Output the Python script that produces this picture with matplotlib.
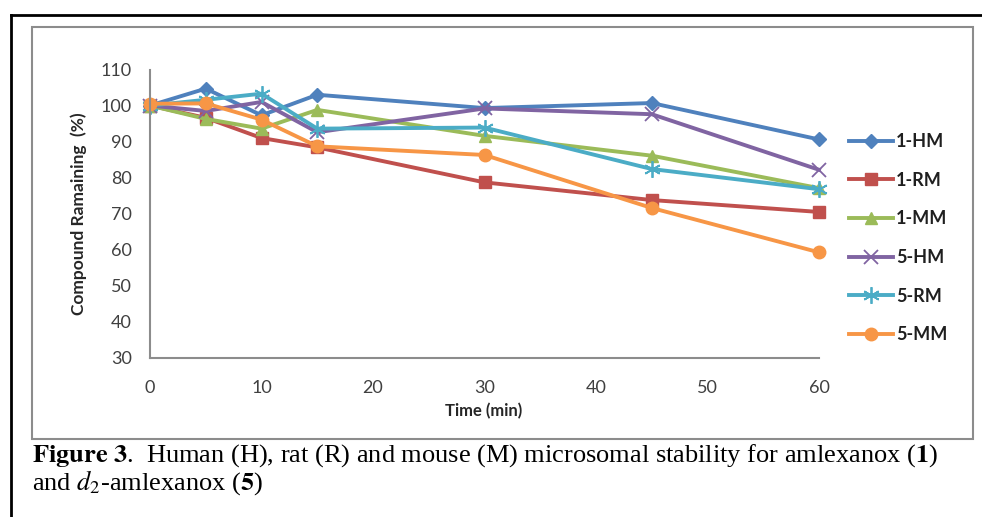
import matplotlib as mpl
mpl.use('Agg')
import matplotlib.pyplot as plt
from matplotlib.lines import Line2D
from matplotlib.patches import Rectangle

# time points (min) and % compound remaining
time_min = [0, 5, 10, 15, 30, 45, 60]
hm_1 = [100, 104.7, 97.3, 103.0, 99.3, 100.7, 90.6]
rm_1 = [100, 96.6, 91.0, 88.4, 78.7, 73.8, 70.5]
mm_1 = [100, 96.3, 93.6, 98.8, 91.6, 86.1, 77.1]
hm_5 = [100, 98.5, 101.0, 92.6, 99.2, 97.6, 82.2]
rm_5 = [100, 101.6, 103.3, 93.6, 93.9, 82.4, 76.8]
mm_5 = [100.5, 100.6, 96.1, 88.7, 86.3, 71.6, 59.3]

series_names = ["1-HM", "1-RM", "1-MM", "5-HM", "5-RM", "5-MM"]
x_ticks = [0, 10, 20, 30, 40, 50, 60]
y_ticks = [30, 40, 50, 60, 70, 80, 90, 100, 110]

W, H = 982, 517
plt.rcParams['font.family'] = ['Lato', 'DejaVu Sans']
plt.rcParams['mathtext.fontset'] = 'stix'

fig = plt.figure(figsize=(W / 100, H / 100), dpi=100)
fig.patch.set_facecolor('white')

# outer black frame (only top and left visible in the crop)
fig.add_artist(Line2D([11 / W, 1.0], [1 - 15 / H, 1 - 15 / H], color='black', lw=2))
fig.add_artist(Line2D([11 / W, 11 / W], [1 - 15 / H, 0.0], color='black', lw=2))
# grey chart area border
fig.add_artist(Rectangle((32 / W, 1 - 439 / H), 941 / W, 412 / H, fill=False,
                         edgecolor='#8c8c8c', lw=1.5))

ax = fig.add_axes([150 / W, 1 - 358 / H, 669 / W, (358 - 69.5) / H])

styles = [
    dict(color='#4F81BD', marker='D', ms=7.5),
    dict(color='#C0504D', marker='s', ms=8.5),
    dict(color='#9BBB59', marker='^', ms=8.5),
    dict(color='#8064A2', marker='x', ms=10, mew=1.3),
    dict(color='#4BACC6', marker=(6, 2, 0), ms=12, mew=1.3),
    dict(color='#F79646', marker='o', ms=9),
]
all_series = [hm_1, rm_1, mm_1, hm_5, rm_5, mm_5]
for vals, name, st in zip(all_series, series_names, styles):
    ax.plot(time_min, vals, lw=2.8, label=name, clip_on=False, **st)

ax.set_xlim(0, 60)
ax.set_ylim(30, 110)
ax.set_xticks(x_ticks)
ax.set_yticks(y_ticks)
ax.tick_params(length=0, labelsize=13, colors='#404040')
ax.tick_params(axis='y', pad=13)
ax.tick_params(axis='x', pad=16)
for s in ['top', 'right']:
    ax.spines[s].set_visible(False)
for s in ['left', 'bottom']:
    ax.spines[s].set_color('#8c8c8c')
    ax.spines[s].set_linewidth(1.5)

fig.text(79 / W, 1 - 214 / H, "Compound Ramaining  (%)", rotation=90, ha='center',
         va='center', fontsize=12.5, fontweight='bold', color='#262626')
fig.text(484 / W, 1 - 411 / H, "Time (min)", ha='center', va='center',
         fontsize=12, fontweight='bold', color='#262626')

leg = fig.legend(loc='upper left', bbox_to_anchor=(849 / W, 1 - 133 / H),
                 frameon=False, borderpad=0, borderaxespad=0, handlelength=2.45,
                 handletextpad=0.17, labelspacing=1.2,
                 prop=dict(family=['Lato', 'DejaVu Sans'], weight='bold', size=13))
for t in leg.get_texts():
    t.set_color('#1f1f1f')

# caption
cap_kw = dict(family=['Liberation Serif', 'DejaVu Serif'], fontsize=19, color='black')
fig.text(32 / W, 1 - 462 / H,
         r"$\mathbf{Figure\ 3}$.  Human (H), rat (R) and mouse (M) microsomal stability for amlexanox ($\mathbf{1}$)",
         ha='left', va='baseline', **cap_kw)
fig.text(32 / W, 1 - 490 / H, r"and $d_2$-amlexanox ($\mathbf{5}$)",
         ha='left', va='baseline', **cap_kw)

fig.savefig("out.png", dpi=100)
